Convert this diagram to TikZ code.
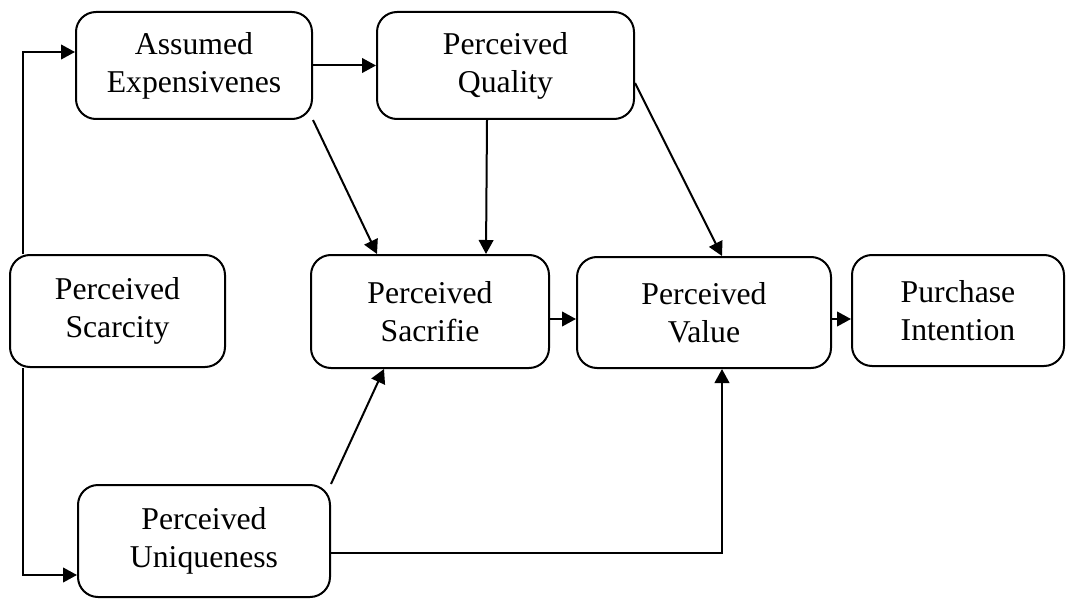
\documentclass[tikz,border=0pt]{standalone}
\usepackage{fontspec}
\setmainfont{Liberation Serif}
\usepackage{tikz}
\usetikzlibrary{calc,arrows.meta}

\tikzset{
	box/.style={draw, line width=1.5pt, rounded corners=15pt, fill=white, inner sep=0pt, align=center, font=\fontsize{23.8}{28.5}\selectfont},
	arr/.style={line width=1.5pt, -{Triangle[length=10.5pt,width=11pt]}}
}

\begin{document}
\begin{tikzpicture}[x=0.75pt,y=-0.75pt]
			\useasboundingbox (0,0) rectangle (1067,599);
			\node[box, minimum width=177pt, minimum height=80.25pt](assumed) at (194,65.5) {Assumed\\Expensivenes};
			\node[box, minimum width=192.75pt, minimum height=80.25pt](quality) at (505.5,65.5) {Perceived\\Quality};
			\node[box, minimum width=161.25pt, minimum height=84pt](scarcity) at (117.5,311) {Perceived\\Scarcity};
			\node[box, minimum width=178.5pt, minimum height=84.75pt](sacrifie) at (430,311.5) {Perceived\\Sacrifie};
			\node[box, minimum width=190.5pt, minimum height=83.25pt](value) at (704,312.5) {Perceived\\Value};
			\node[box, minimum width=159pt, minimum height=83.25pt](intention) at (958,310.5) {Purchase\\Intention};
			\node[box, minimum width=189pt, minimum height=84pt](uniqueness) at (204,541) {Perceived\\Uniqueness};

			\draw[arr] ($(scarcity.north west)+(14,0)$) |- ($(assumed.west)+(0,-13.5)$);
			\draw[arr] ($(scarcity.south west)+(14,0)$) |- ($(uniqueness.west)+(0,34)$);
			\draw[arr] (assumed.east) -- (quality.west);
			\draw[arr] (assumed.south east) -- ($(sacrifie.north west)+(67,0)$);
			\draw[arr] ($(quality.south)+(-18.5,0)$) -- ($(sacrifie.north west)+(176,0)$);
			\draw[arr] ($(quality.east)+(0,17.5)$) -- ($(value.north west)+(146,0)$);
			\draw[arr] ($(sacrifie.east)+(0,7.5)$) -- ($(value.west)+(0,6.5)$);
			\draw[arr] ($(value.east)+(0,6.5)$) -- ($(intention.west)+(0,8.5)$);
			\draw[arr] (uniqueness.north east) -- ($(sacrifie.south west)+(74,0)$);
			\draw[arr] ($(uniqueness.east)+(0,12)$) -| ($(value.south)+(18,0)$);
		\end{tikzpicture}
\end{document}
